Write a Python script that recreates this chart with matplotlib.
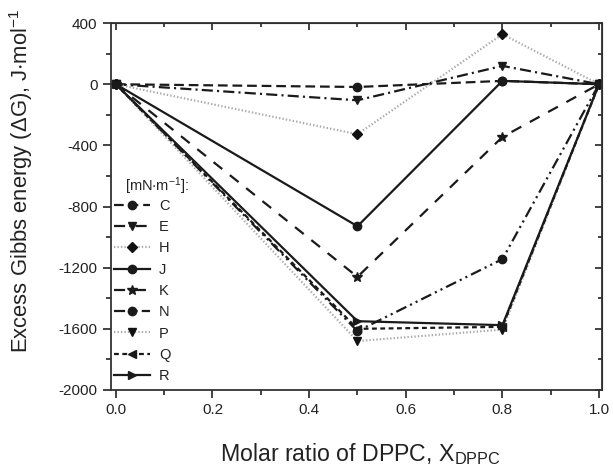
import matplotlib
matplotlib.use("Agg")
import matplotlib.pyplot as plt
from matplotlib.ticker import MultipleLocator

plt.rcParams['font.family'] = ['Liberation Sans', 'DejaVu Sans']
plt.rcParams['mathtext.fontset'] = 'custom'
plt.rcParams['mathtext.rm'] = 'Liberation Sans'
plt.rcParams['mathtext.it'] = 'Liberation Sans'
plt.rcParams['mathtext.default'] = 'regular'
plt.rcParams['lines.scale_dashes'] = False
plt.rcParams['axes.unicode_minus'] = False

x = [0.0, 0.5, 0.8, 1.0]
labels = ['C', 'E', 'H', 'J', 'K', 'N', 'P', 'Q', 'R']
C = [0, -18, 22, 0]
E = [0, -105, 120, 0]
H = [0, -327, 327, 0]
J = [0, -929, 22, 0]
K = [0, -1260, -345, 0]
N = [0, -1615, -1144, 0]
P = [0, -1680, -1605, 0]
Q = [0, -1600, -1587, 0]
R = [0, -1550, -1576, 0]
series = [C, E, H, J, K, N, P, Q, R]

styles = [
    dict(color='#1a1a1a', marker='o', dashes=(7, 3.5)),
    dict(color='#1a1a1a', marker='v', dashes=(8, 3, 1.5, 3)),
    dict(color='#aaaaaa', marker='D', dashes=(1, 1.5), mfc='#111111', mec='#111111'),
    dict(color='#1a1a1a', marker='o', linestyle='-'),
    dict(color='#1a1a1a', marker='*', dashes=(8, 7)),
    dict(color='#1a1a1a', marker='o', dashes=(8, 3, 1.5, 3, 1.5, 3)),
    dict(color='#aaaaaa', marker='v', dashes=(1, 1.5), mfc='#111111', mec='#111111'),
    dict(color='#1a1a1a', marker='<', dashes=(3.5, 2.5)),
    dict(color='#1a1a1a', marker='>', linestyle='-'),
]

fig = plt.figure(figsize=(6.13, 4.71), dpi=100)
ax = fig.add_axes([0.1806, 0.172, 0.982 - 0.1806, 0.951 - 0.172])

for lab, y, st in zip(labels, series, styles):
    st = dict(st)
    ms = {'*': 7.5, 'D': 5.5}.get(st['marker'], 6)
    ax.plot(x, y, label=lab, linewidth=1.6, markersize=ms, **st)

ax.set_xlim(-0.0106, 1.006)
ax.set_ylim(-2000, 400)
ax.xaxis.set_major_locator(MultipleLocator(0.2))
ax.xaxis.set_minor_locator(MultipleLocator(0.1))
ax.yaxis.set_major_locator(MultipleLocator(400))
ax.yaxis.set_minor_locator(MultipleLocator(200))
ax.xaxis.set_major_formatter(matplotlib.ticker.FormatStrFormatter('%.1f'))
ax.tick_params(which='both', direction='out', labelsize=11, width=1.2, colors='#222222')
ax.tick_params(which='major', length=6)
ax.tick_params(which='minor', length=3.5)
for s in ax.spines.values():
    s.set_linewidth(1.3)
    s.set_color('#333333')

secx = ax.secondary_xaxis('top')
secx.xaxis.set_major_locator(MultipleLocator(0.2))
secx.xaxis.set_minor_locator(MultipleLocator(0.1))
secx.tick_params(which='both', direction='in', labeltop=False, width=1.2, colors='#222222')
secx.tick_params(which='major', length=5)
secx.tick_params(which='minor', length=3)
secy = ax.secondary_yaxis('right')
secy.yaxis.set_major_locator(MultipleLocator(400))
secy.yaxis.set_minor_locator(MultipleLocator(200))
secy.tick_params(which='both', direction='in', labelright=False, width=1.2, colors='#222222')
secy.tick_params(which='major', length=5)
secy.tick_params(which='minor', length=3)

ax.set_xlabel(r'Molar ratio of DPPC, X$_{\mathregular{DPPC}}$', fontsize=16.7, color='#222222')
ax.xaxis.set_label_coords(0.508, -0.14)
ax.set_ylabel(r'Excess Gibbs energy ($\Delta$G), J$\cdot$mol$^{\mathregular{-1}}$', fontsize=15.8, color='#222222')
ax.yaxis.set_label_coords(-0.155, 0.569)

ax.text(0.029, 0.556, r'[mN$\cdot$m$^{\mathregular{-1}}$]:', transform=ax.transAxes, fontsize=10.5,
        color='#222222', ha='left', va='center')

leg = ax.legend(loc='upper left', bbox_to_anchor=(0.006, 0.521),
                frameon=False, fontsize=10.5, handlelength=2.5, handletextpad=0.6,
                labelspacing=0.5, borderaxespad=0.0, borderpad=0.0)
for t in leg.get_texts():
    t.set_color('#222222')

fig.savefig('out.png', dpi=100)
